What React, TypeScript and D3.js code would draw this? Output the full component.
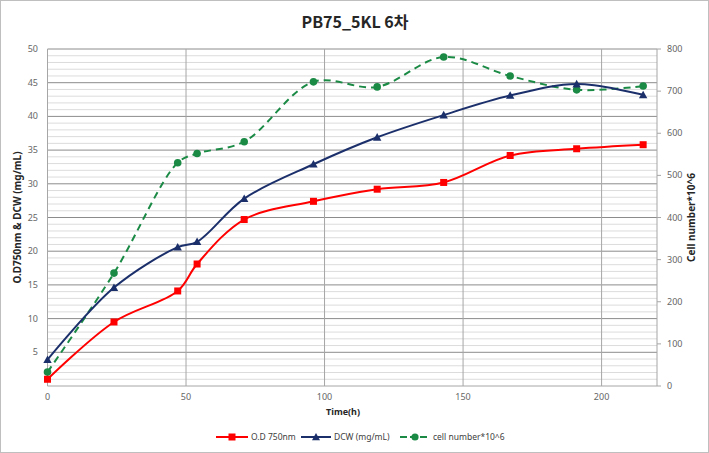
import React from "react";
import * as d3 from "d3";

const hours = [0, 24, 47, 54, 71, 96, 119, 143, 167, 191, 215];
const odValues = [1.0, 9.5, 14.1, 18.1, 24.7, 27.4, 29.2, 30.2, 34.2, 35.2, 35.8];
const dcwValues = [3.9, 14.6, 20.6, 21.4, 27.8, 32.9, 36.9, 40.2, 43.1, 44.8, 43.2];
const cellValues = [33, 268, 530, 552, 580, 722, 710, 781, 736, 703, 712];
const leftTicks = [5, 10, 15, 20, 25, 30, 35, 40, 45, 50];
const rightTicks = [0, 100, 200, 300, 400, 500, 600, 700, 800];
const xTicks = [0, 50, 100, 150, 200];

const W = 709, H = 453;
const L = 47.5, R = 657, T = 49, B = 386;

export default function App() {
  const x = d3.scaleLinear().domain([0, 220]).range([L, R]);
  const yL = d3.scaleLinear().domain([0, 50]).range([B, T]);
  const yR = d3.scaleLinear().domain([0, 800]).range([B, T]);
  const curve = d3.curveCatmullRom.alpha(0.5);
  const lineL = d3.line<number>().x((_, i) => x(hours[i])).y((d) => yL(d)).curve(curve);
  const lineR = d3.line<number>().x((_, i) => x(hours[i])).y((d) => yR(d)).curve(curve);
  const font = "'Noto Sans', 'Open Sans', sans-serif";
  const minor = d3.range(1, 51).filter((v) => v % 5 !== 0);
  const red = "#ff0000", navy = "#1b2f6b", green = "#1a8a45";
  const tri = (cx: number, cy: number, s: number) =>
    `M${cx},${cy - s} L${cx + s},${cy + s * 0.8} L${cx - s},${cy + s * 0.8} Z`;
  return (
    <div style={{ position: "absolute", left: 0, top: 0 }}>
      <svg width={W} height={H} style={{ display: "block", background: "#fff" }}>
        <rect x={0.5} y={0.5} width={W - 1} height={H - 1} fill="#fff" stroke="#bfbfbf" />
        {minor.map((v) => (
          <line key={"m" + v} x1={L} x2={R} y1={yL(v)} y2={yL(v)} stroke="#dcdcdc" strokeWidth={1} />
        ))}
        {leftTicks.map((v) => (
          <line key={"M" + v} x1={L} x2={R} y1={yL(v)} y2={yL(v)} stroke="#8c8c8c" strokeWidth={1} />
        ))}
        {xTicks.filter((v) => v > 0).map((v) => (
          <line key={"v" + v} x1={x(v)} x2={x(v)} y1={T} y2={B} stroke="#a6a6a6" strokeWidth={1} />
        ))}
        <line x1={L} x2={R} y1={B} y2={B} stroke="#a6a6a6" />
        <line x1={L} x2={L} y1={T} y2={B} stroke="#a6a6a6" />
        <line x1={R} x2={R} y1={T} y2={B} stroke="#a6a6a6" />
        {rightTicks.map((v) => (
          <line key={"rt" + v} x1={R} x2={R + 4} y1={yR(v)} y2={yR(v)} stroke="#a6a6a6" />
        ))}
        {leftTicks.map((v) => (
          <text key={"lt" + v} x={38} y={yL(v) + 3} textAnchor="end" fontSize={9} fill="#666" fontFamily={font}>{v}</text>
        ))}
        {rightTicks.map((v) => (
          <text key={"rl" + v} x={667} y={yR(v) + 3} textAnchor="start" fontSize={9} fill="#666" fontFamily={font}>{v}</text>
        ))}
        {xTicks.map((v) => (
          <text key={"xl" + v} x={x(v)} y={400} textAnchor="middle" fontSize={9} fill="#666" fontFamily={font}>{v}</text>
        ))}
        <text x={343} y={415} textAnchor="middle" fontSize={9} fontWeight="bold" fontFamily={font} fill="#262626">Time(h)</text>
        <text transform={`translate(21,${(T + B) / 2}) rotate(-90)`} textAnchor="middle" fontSize={10} fontWeight="bold" fontFamily={font} fill="#262626">O.D750nm  &amp; DCW (mg/mL)</text>
        <text transform={`translate(695,${(T + B) / 2}) rotate(-90)`} textAnchor="middle" fontSize={10} fontWeight="bold" fontFamily={font} fill="#262626">Cell number*10^6</text>
        <text x={355} y={28} textAnchor="middle" fontSize={16} fontWeight="bold" fontFamily="'Noto Sans CJK KR', 'Noto Sans', sans-serif" fill="#262626">PB75_5KL 6차</text>
        <path d={lineR(cellValues) || ""} fill="none" stroke={green} strokeWidth={2} strokeDasharray="7,5" />
        <path d={lineL(dcwValues) || ""} fill="none" stroke={navy} strokeWidth={2} />
        <path d={lineL(odValues) || ""} fill="none" stroke={red} strokeWidth={2} />
        {cellValues.map((v, i) => (
          <circle key={"c" + i} cx={x(hours[i])} cy={yR(v)} r={3.8} fill={green} />
        ))}
        {dcwValues.map((v, i) => (
          <path key={"d" + i} d={tri(x(hours[i]), yL(v), 4.2)} fill={navy} />
        ))}
        {odValues.map((v, i) => (
          <rect key={"o" + i} x={x(hours[i]) - 3.5} y={yL(v) - 3.5} width={7} height={7} fill={red} />
        ))}
        <g fontFamily={font} fontSize={8.5} fill="#404040">
          <line x1={216} x2={248} y1={437} y2={437} stroke={red} strokeWidth={2} />
          <rect x={228.5} y={433.5} width={7} height={7} fill={red} />
          <text x={251} y={440}>O.D 750nm</text>
          <line x1={301} x2={331} y1={437} y2={437} stroke={navy} strokeWidth={2} />
          <path d={tri(316, 437, 4)} fill={navy} />
          <text x={334} y={440}>DCW (mg/mL)</text>
          <line x1={400} x2={430} y1={437} y2={437} stroke={green} strokeWidth={2} strokeDasharray="7,3" />
          <circle cx={415} cy={437} r={3.6} fill={green} />
          <text x={433} y={440}>cell number*10^6</text>
        </g>
      </svg>
    </div>
  );
}
